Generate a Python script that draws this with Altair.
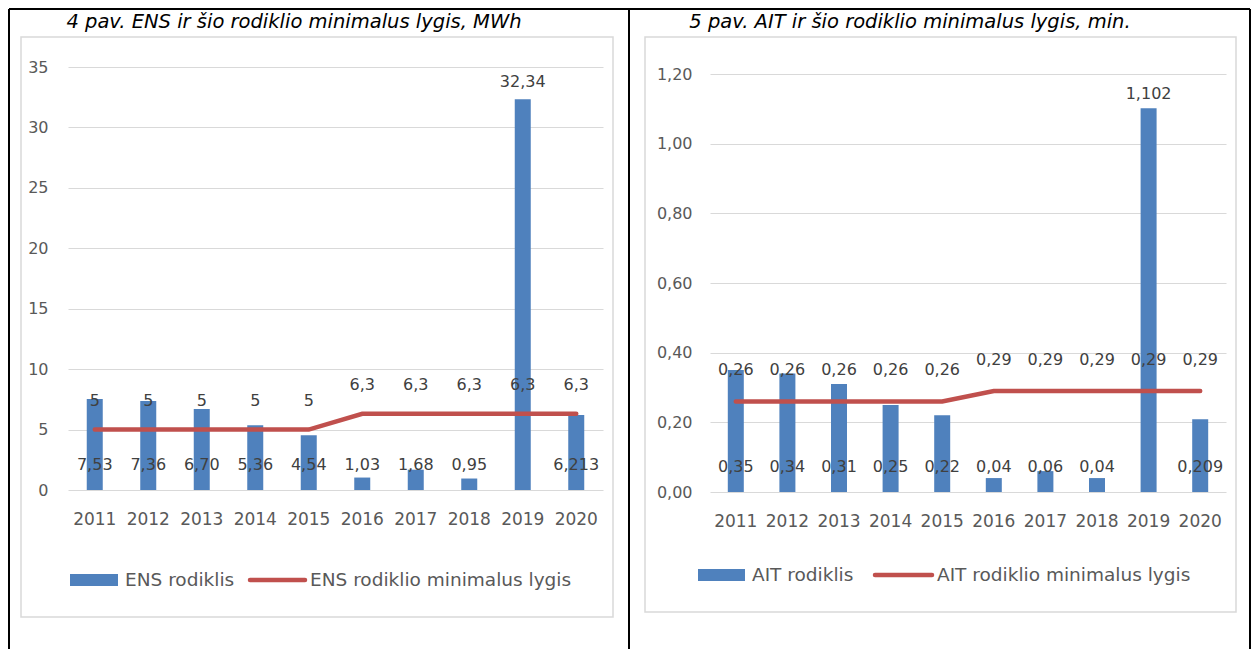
import altair as alt
import pandas as pd

# ---------------- data ----------------
years = ["2011", "2012", "2013", "2014", "2015", "2016", "2017", "2018", "2019", "2020"]

ens_values = [7.53, 7.36, 6.70, 5.36, 4.54, 1.03, 1.68, 0.95, 32.34, 6.213]
ens_min = [5, 5, 5, 5, 5, 6.3, 6.3, 6.3, 6.3, 6.3]
ens_labels = ["7,53", "7,36", "6,70", "5,36", "4,54", "1,03", "1,68", "0,95", "32,34", "6,213"]
ens_min_labels = ["5", "5", "5", "5", "5", "6,3", "6,3", "6,3", "6,3", "6,3"]
ens_ticks = [0, 5, 10, 15, 20, 25, 30, 35]

ait_values = [0.35, 0.34, 0.31, 0.25, 0.22, 0.04, 0.06, 0.04, 1.102, 0.209]
ait_min = [0.26, 0.26, 0.26, 0.26, 0.26, 0.29, 0.29, 0.29, 0.29, 0.29]
ait_labels = ["0,35", "0,34", "0,31", "0,25", "0,22", "0,04", "0,06", "0,04", "1,102", "0,209"]
ait_min_labels = ["0,26", "0,26", "0,26", "0,26", "0,26", "0,29", "0,29", "0,29", "0,29", "0,29"]
ait_ticks = [0.0, 0.2, 0.4, 0.6, 0.8, 1.0, 1.2]

ens_title = "4 pav. ENS ir šio rodiklio minimalus lygis, MWh"
ait_title = "5 pav. AIT ir šio rodiklio minimalus lygis, min."
ens_legend = ["ENS rodiklis", "ENS rodiklio minimalus lygis"]
ait_legend = ["AIT rodiklis", "AIT rodiklio minimalus lygis"]
top_label_year = "2019"

# ---------------- style ----------------
FONT = "DejaVu Sans"
BLUE = "#4F81BD"
RED = "#C0504D"
AXIS_GRAY = "#595959"
LABEL_GRAY = "#404040"
GRID = "#d9d9d9"
FS = 16
LEG_FS = 18.5
TITLE_FS = 19.5

one = pd.DataFrame({"d": [0]})


def deco_rule(x, x2=None, y=None, y2=None, color="black", width=2):
    enc = {"x": alt.value(x), "y": alt.value(y)}
    if x2 is not None:
        enc["x2"] = alt.value(x2)
    if y2 is not None:
        enc["y2"] = alt.value(y2)
    return alt.Chart(one).mark_rule(color=color, strokeWidth=width).encode(**enc)


def deco_text(txt, x, y, align="left", size=FS, color=AXIS_GRAY, style="normal"):
    return alt.Chart(one).mark_text(
        text=txt, align=align, baseline="middle", font=FONT, fontSize=size,
        color=color, fontStyle=style,
    ).encode(x=alt.value(x), y=alt.value(y))


def panel(vals, mins, labs, minlabs, ticks, ymax, width, height, fmt, ylabpad,
          bar_dy, line_dy, top_dy, title, title_x, legend, leg, frame, vlines):
    df = pd.DataFrame({
        "year": years, "val": vals, "mn": mins, "lab": labs, "mnlab": minlabs,
    })
    base = alt.Chart(df)
    x = alt.X(
        "year:N", title=None,
        scale=alt.Scale(paddingInner=0, paddingOuter=0),
        axis=alt.Axis(domain=False, ticks=False, tickSize=0, labelPadding=21,
                      labelAngle=0, grid=False, labelFontSize=17),
    )
    yscale = alt.Scale(domain=[0, ymax], nice=False, zero=True)
    y = alt.Y(
        "val:Q", title=None, scale=yscale,
        axis=alt.Axis(values=ticks, domain=False, ticks=False, tickSize=0,
                      labelPadding=ylabpad, grid=True, gridColor=GRID,
                      gridWidth=1, labelExpr=fmt),
    )
    bars = base.mark_bar(size=16, color=BLUE).encode(x=x, y=y)
    line = base.mark_line(color=RED, strokeWidth=4.5, strokeCap="round").encode(
        x=x, y=alt.Y("mn:Q", scale=yscale))
    tstyle = dict(font=FONT, fontSize=FS, color=LABEL_GRAY, baseline="middle")
    bar_lab = base.mark_text(dy=bar_dy, **tstyle).encode(
        x=x, y=alt.datum(0), text="lab:N"
    ).transform_filter(alt.datum.year != top_label_year)
    top_lab = base.mark_text(dy=top_dy, **tstyle).encode(
        x=x, y=alt.Y("val:Q", scale=yscale), text="lab:N"
    ).transform_filter(alt.datum.year == top_label_year)
    min_lab = base.mark_text(dy=line_dy, **tstyle).encode(
        x=x, y=alt.Y("mn:Q", scale=yscale), text="mnlab:N")

    fx0, fx1, fy0, fy1 = frame
    frame_rect = alt.Chart(one).mark_rect(
        fillOpacity=0, stroke=GRID, strokeWidth=1.5
    ).encode(x=alt.value(fx0), x2=alt.value(fx1), y=alt.value(fy0), y2=alt.value(fy1))

    decos = [frame_rect]
    for (vx, vy0, vy1) in vlines:
        decos.append(deco_rule(vx, y=vy0, y2=vy1))
    decos.append(deco_rule(vlines[0][0], x2=vlines[-1][0], y=-58))
    decos.append(deco_text(title, title_x, -45, align="center", size=TITLE_FS,
                           color="black", style="italic"))
    (sx0, sx1, sy, t1x, lx0, lx1, t2x) = leg
    decos.append(alt.Chart(one).mark_rect(color=BLUE).encode(
        x=alt.value(sx0), x2=alt.value(sx1), y=alt.value(sy - 6), y2=alt.value(sy + 6)))
    decos.append(deco_text(legend[0], t1x, sy, size=LEG_FS))
    decos.append(alt.Chart(one).mark_rule(color=RED, strokeWidth=4.5, strokeCap="round").encode(
        x=alt.value(lx0), x2=alt.value(lx1), y=alt.value(sy)))
    decos.append(deco_text(legend[1], t2x, sy, size=LEG_FS))

    return alt.layer(*decos, bars, line, bar_lab, top_lab, min_lab).properties(
        width=width, height=height)


ens_fmt = "replace(format(datum.value, 'd'), '.', ',')"
ait_fmt = "replace(format(datum.value, '.2f'), '.', ',')"

left = panel(
    ens_values, ens_min, ens_labels, ens_min_labels, ens_ticks, 35, 535, 423,
    ens_fmt, 20, -25, -29, -17, ens_title, 226, ens_legend,
    (2, 50, 513, 57, 182, 237, 242),
    (-47, 545, -30, 550),
    [(-59, -58, 582), (561, -58, 582)],
)

right = panel(
    ait_values, ait_min, ait_labels, ait_min_labels, ait_ticks, 1.2201, 516, 425,
    ait_fmt, 18, -25, -31, -14, ait_title, 200, ait_legend,
    (-12, 35, 508, 42, 165, 222, 227),
    (-65, 526, -30, 545),
    [(-81, -58, 582), (540, -58, 582)],
)

chart = alt.hconcat(left, right, spacing=107).properties(
    bounds="flush", padding=0
).configure_view(stroke=None).configure_axis(
    labelFont=FONT, labelFontSize=FS, labelColor=AXIS_GRAY
)

chart.save("out.html", embed_options={"renderer": "svg", "actions": False})
